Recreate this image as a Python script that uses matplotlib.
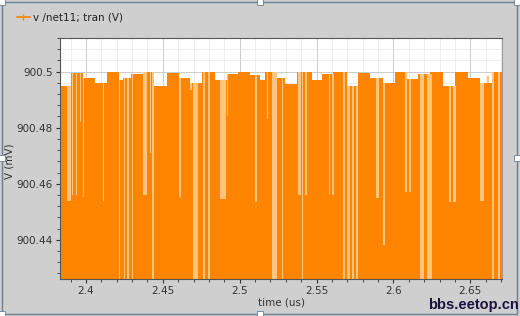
import numpy as np
import matplotlib
matplotlib.use("Agg")
import matplotlib.pyplot as plt
from matplotlib import ticker
from matplotlib.lines import Line2D
from matplotlib.patches import Rectangle

# step edges of the waveform (us) and the level held on each step (mV)
edges = [2.3831, 2.3902, 2.3980, 2.4059, 2.4137, 2.4215, 2.4241, 2.4293, 2.4371,
         2.4443, 2.4527, 2.4605, 2.4677, 2.4755, 2.4840, 2.4918, 2.4990, 2.5068,
         2.5133, 2.5165, 2.5230, 2.5296, 2.5374, 2.5471, 2.5537, 2.5608, 2.5699,
         2.5771, 2.5849, 2.5933, 2.6012, 2.6090, 2.6161, 2.6239, 2.6324, 2.6402,
         2.6487, 2.6565, 2.6643, 2.6708]
levels = [900.4950, 900.4995, 900.4976, 900.4960, 900.5000, 900.4970, 900.4976,
          900.4990, 900.5000, 900.4950, 900.4994, 900.4978, 900.4960, 900.5000,
          900.4970, 900.4990, 900.4998, 900.4988, 900.4970, 900.5000, 900.4976,
          900.4955, 900.5000, 900.4970, 900.4990, 900.5000, 900.4950, 900.4994,
          900.4976, 900.4960, 900.5000, 900.4972, 900.4990, 900.5000, 900.4950,
          900.5000, 900.4976, 900.4960, 900.5000]

# short downward glitches: centre time (us), duration (us), lowest value (mV)
dip_t = [2.3889, 2.3912, 2.3938, 2.3967, 2.3984, 2.4114, 2.4218, 2.4251, 2.4273,
         2.4303, 2.4384, 2.4420, 2.4436, 2.4612, 2.4684, 2.4713, 2.4768, 2.4801,
         2.4892, 2.4921, 2.5107, 2.5182, 2.5227, 2.5279, 2.5390, 2.5409, 2.5432,
         2.5585, 2.5608, 2.5680, 2.5709, 2.5738, 2.5764, 2.5898, 2.5940, 2.6083,
         2.6109, 2.6187, 2.6236, 2.6370, 2.6399, 2.6578, 2.6617, 2.6646, 2.6689]
dip_w = [0.0026, 0.0010, 0.0010, 0.0007, 0.0010, 0.0010, 0.0010, 0.0010, 0.0013,
         0.0010, 0.0026, 0.0008, 0.0013, 0.0013, 0.0013, 0.0033, 0.0013, 0.0013,
         0.0040, 0.0008, 0.0013, 0.0008, 0.0033, 0.0010, 0.0020, 0.0010, 0.0013,
         0.0010, 0.0013, 0.0013, 0.0020, 0.0013, 0.0013, 0.0020, 0.0013, 0.0013,
         0.0013, 0.0026, 0.0033, 0.0013, 0.0020, 0.0026, 0.0013, 0.0010, 0.0013]
dip_v = [900.4540, 900.4560, 900.4560, 900.4820, 900.4553, 900.4540, 900.4200,
         900.4200, 900.4200, 900.4200, 900.4560, 900.4708, 900.4200, 900.4553,
         900.4934, 900.4200, 900.4200, 900.4200, 900.4546, 900.4840, 900.4535,
         900.4830, 900.4200, 900.4200, 900.4560, 900.4200, 900.4560, 900.4560,
         900.4560, 900.4200, 900.4200, 900.4200, 900.4200, 900.4550, 900.4380,
         900.4570, 900.4570, 900.4200, 900.4200, 900.4535, 900.4535, 900.4540,
         900.4985, 900.4200, 900.4200]

ORANGE = "#ff8400"
LIGHT = "#ffc47e"
BG = "#cfcfcf"

fig = plt.figure(figsize=(5.2, 3.16), dpi=100, facecolor=BG)
ax = fig.add_axes([0.1154, 0.1171, 0.85, 0.7627])
ax.set_facecolor("white")

ax.stairs(levels, edges, baseline=900.40, fill=True, color=ORANGE, zorder=2)
# glitches: lighter band from the glitch floor up to the current level
top = np.array(levels)[np.searchsorted(edges, dip_t) - 1]
ax.bar(dip_t, top - np.array(dip_v), width=dip_w, bottom=dip_v,
       color=LIGHT, linewidth=0, zorder=3)

ax.set_xlim(2.3831, 2.6706)
ax.set_ylim(900.426, 900.512)
ax.xaxis.set_major_locator(ticker.MultipleLocator(0.05))
ax.xaxis.set_minor_locator(ticker.MultipleLocator(0.01))
ax.yaxis.set_major_locator(ticker.MultipleLocator(0.02))
ax.yaxis.set_minor_locator(ticker.MultipleLocator(0.004))
fmt = ticker.FuncFormatter(lambda v, p: f"{v:g}")
ax.xaxis.set_major_formatter(fmt)
ax.yaxis.set_major_formatter(fmt)
ax.tick_params(which="major", length=3, width=0.8, labelsize=7.5, colors="#333333", pad=2)
ax.tick_params(which="minor", length=2, width=0.6, colors="#333333")
ax.grid(True, which="major", color="#c4c4c4", lw=0.6, zorder=0)
ax.grid(True, which="minor", color="#e6e6e6", lw=0.5, zorder=0)
ax.set_axisbelow(True)
for s in ax.spines.values():
    s.set_color("#555555"); s.set_linewidth(0.8)
ax.spines["right"].set_color("#9a9a9a")

ax.set_xlabel("time (us)", fontsize=7.5, color="#333333", labelpad=1)
ax.set_ylabel("V (mV)", fontsize=7.5, color="#333333")
ax.yaxis.set_label_coords(-0.102, 0.49)

# legend above the plot area
h = Line2D([], [], color=ORANGE, lw=1.2, marker="|", markersize=4)
fig.legend(handles=[h], labels=["v /net11; tran (V)"], loc="upper left",
           bbox_to_anchor=(0.014, 0.99), frameon=False, fontsize=7.5,
           handlelength=1.3, handletextpad=0.3, labelcolor="#222222")

# window frame with resize handles
fig.patches.append(Rectangle((0.004, 0.005), 0.99, 0.99, transform=fig.transFigure,
                             fill=False, edgecolor="#6d7f92", lw=1.0))
for hx, hy in [(0.004, 0.995), (0.5, 0.995), (0.994, 0.5), (0.004, 0.5),
               (0.5, 0.005), (0.004, 0.005), (0.994, 0.995)]:
    fig.patches.append(Rectangle((hx - 0.006, hy - 0.01), 0.012, 0.02,
                                 transform=fig.transFigure, facecolor="white",
                                 edgecolor="#6d7f92", lw=0.6))

fig.text(0.998, 0.022, "bbs.eetop.cn", ha="right", va="baseline", fontsize=10.5,
         fontweight="bold", color="#1c1240",
         family=["Liberation Sans", "DejaVu Sans"])

fig.savefig("out.png", dpi=100, facecolor=BG)
